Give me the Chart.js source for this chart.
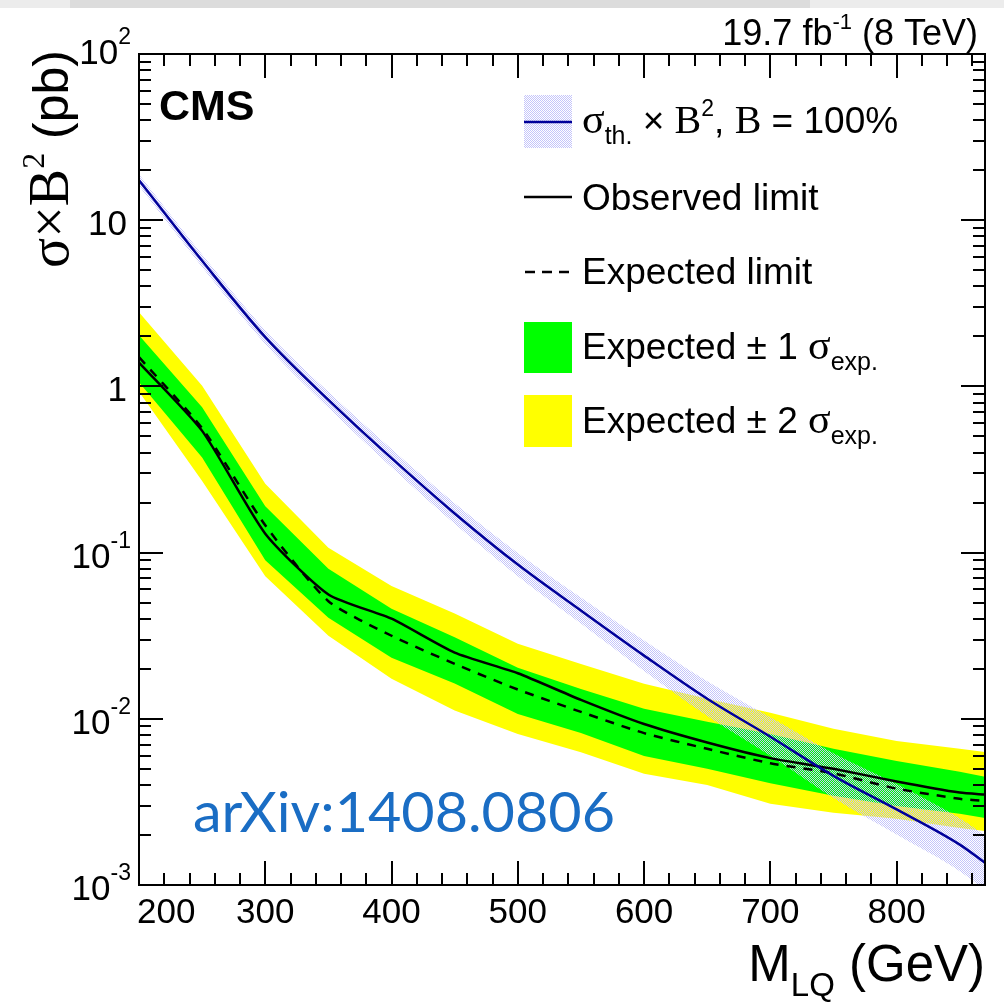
<!DOCTYPE html>
<html>
<head>
<meta charset="utf-8">
<script src="https://cdn.jsdelivr.net/npm/chart.js@4.4.1/dist/chart.umd.min.js"></script>
<style>
  html, body { margin: 0; padding: 0; background: #fff; }
  #wrap { width: 1004px; height: 1003px; position: relative; }
</style>
</head>
<body>
<div id="wrap"><canvas id="limitChart"></canvas></div>
<script>
// LQ mass points (GeV)
const masses = [200, 250, 300, 350, 400, 450, 500, 550, 600, 650, 700, 750, 800, 850, 870];

// theory cross section x B^2 (pb) and its uncertainty band
const theory     = [17.4, 5.7, 1.98, 0.83, 0.37, 0.172, 0.0847, 0.0448, 0.024, 0.0132, 0.0078, 0.00454, 0.00285, 0.00175, 0.00136];
const theoryUp   = [18.9, 6.22, 2.18, 0.927, 0.42, 0.198, 0.0995, 0.0536, 0.0296, 0.0168, 0.0102, 0.0062, 0.00405, 0.00252, 0.00199];
const theoryDown = [16.05, 5.22, 1.80, 0.743, 0.326, 0.149, 0.0721, 0.0374, 0.0194, 0.0104, 0.0060, 0.00334, 0.00201, 0.00121, 0.00093];

// limits (pb)
const observed = [1.39, 0.54, 0.13, 0.056, 0.040, 0.025, 0.0188, 0.013, 0.0093, 0.0072, 0.0058, 0.0050, 0.0042, 0.0036, 0.0035];
const expected = [1.5, 0.56, 0.146, 0.051, 0.0316, 0.0214, 0.015, 0.011, 0.0082, 0.0066, 0.0054, 0.0047, 0.0038, 0.0033, 0.0032];
const exp1Up   = [2.03, 0.75, 0.19, 0.080, 0.046, 0.031, 0.0203, 0.0151, 0.0115, 0.0096, 0.0081, 0.0066, 0.00558, 0.0048, 0.00448];
const exp1Down = [1.06, 0.373, 0.09, 0.0406, 0.0233, 0.0163, 0.0107, 0.0082, 0.00598, 0.0050, 0.0041, 0.00344, 0.00299, 0.00268, 0.00253];
const exp2Up   = [2.79, 1.01, 0.26, 0.107, 0.063, 0.043, 0.0283, 0.0214, 0.01625, 0.0132, 0.01087, 0.0087, 0.00736, 0.0066, 0.00632];
const exp2Down = [0.93, 0.27, 0.072, 0.0316, 0.0174, 0.0112, 0.0081, 0.0063, 0.00467, 0.0040, 0.00308, 0.00272, 0.0025, 0.0022, 0.00211];

// axis ticks
const xMajorTicks = [200, 300, 400, 500, 600, 700, 800];
const yDecades = [-3, -2, -1, 0, 1, 2];

const SANS = "'Liberation Sans', Arial, sans-serif";
const SERIF = "'Liberation Serif', 'Times New Roman', serif";

const pts = (arr) => masses.map((m, i) => ({ x: m, y: arr[i] }));

// dotted hatch for the theory band
const pc = document.createElement("canvas");
pc.width = 2; pc.height = 2;
const pctx = pc.getContext("2d");
pctx.fillStyle = "rgb(196,196,250)";
pctx.fillRect(0, 0, 1, 1);
pctx.fillRect(1, 1, 1, 1);
const hatch = pctx.createPattern(pc, "repeat");

// draws a run of text pieces: [text, font, dy]
function drawRuns(ctx, runs, x, y) {
  let cx = x;
  runs.forEach(([t, f, dy]) => {
    ctx.font = f;
    ctx.fillText(t, cx, y + (dy || 0));
    cx += ctx.measureText(t).width;
  });
  return cx;
}
function runsWidth(ctx, runs) {
  let w = 0;
  runs.forEach(([t, f]) => { ctx.font = f; w += ctx.measureText(t).width; });
  return w;
}

const decorations = {
  id: "decorations",
  afterDraw(chart) {
    const ctx = chart.ctx;
    const xs = chart.scales.x, ys = chart.scales.y;
    const a = chart.chartArea;
    ctx.save();

    // grey strip at very top
    ctx.fillStyle = "#ececec";
    ctx.fillRect(0, 0, 1004, 8);
    ctx.fillStyle = "#dcdcdc";
    ctx.fillRect(70, 0, 740, 8);

    ctx.strokeStyle = "#000";
    ctx.lineWidth = 2;
    ctx.strokeRect(a.left, a.top, a.right - a.left, a.bottom - a.top);

    // x ticks (bottom and top)
    ctx.beginPath();
    for (let m = 200; m <= 870; m += 20) {
      const px = Math.round(xs.getPixelForValue(m));
      const len = m % 100 === 0 ? 24 : 12;
      ctx.moveTo(px, a.bottom); ctx.lineTo(px, a.bottom - len);
      ctx.moveTo(px, a.top); ctx.lineTo(px, a.top + len);
    }
    // y ticks (left and right)
    for (let e = -3; e <= 1; e++) {
      for (let k = 1; k <= 9; k++) {
        const py = Math.round(ys.getPixelForValue(k * Math.pow(10, e)));
        const len = k === 1 ? 24 : 12;
        ctx.moveTo(a.left, py); ctx.lineTo(a.left + len, py);
        ctx.moveTo(a.right, py); ctx.lineTo(a.right - len, py);
      }
    }
    ctx.stroke();

    ctx.fillStyle = "#000";
    ctx.textBaseline = "alphabetic";

    // x tick labels
    ctx.font = "35px " + SANS;
    xMajorTicks.forEach((m, i) => {
      const px = xs.getPixelForValue(m);
      if (i === 0) { ctx.textAlign = "left"; ctx.fillText(String(m), 137, 923); }
      else { ctx.textAlign = "center"; ctx.fillText(String(m), px, 923); }
    });

    // y tick labels
    ctx.textAlign = "left";
    yDecades.forEach((e) => {
      const py = ys.getPixelForValue(Math.pow(10, e)) + (e === 2 ? -2 : 3);
      const base = py + 12;
      if (e === 0 || e === 1) {
        const t = e === 0 ? "1" : "10";
        ctx.font = "35px " + SANS;
        ctx.fillText(t, 127 - ctx.measureText(t).width, base);
      } else {
        const sup = String(e);
        ctx.font = "23px " + SANS;
        const sw = ctx.measureText(sup).width;
        ctx.fillText(sup, 131 - sw, base - 20);
        ctx.font = "35px " + SANS;
        const bw = ctx.measureText("10").width;
        ctx.fillText("10", 131 - sw - bw, base);
      }
    });

    // x axis title
    const xt = [["M", "51px " + SANS, 0], ["LQ", "33px " + SANS, 15], [" (GeV)", "51px " + SANS, 0]];
    drawRuns(ctx, xt, 985 - runsWidth(ctx, xt), 981);

    // y axis title (rotated)
    const yt = [["\u03c3\u00d7B", "56px " + SERIF, 0], ["2", "32px " + SERIF, -24], [" (pb)", "50px " + SANS, 0]];
    const yw = runsWidth(ctx, yt);
    ctx.save();
    ctx.translate(68, 50 + yw);
    ctx.rotate(-Math.PI / 2);
    drawRuns(ctx, yt, 0, 0);
    ctx.restore();

    // CMS label and lumi
    ctx.font = "bold 43px " + SANS;
    ctx.fillText("CMS", 159, 120);
    const lumi = [["19.7 fb", "36px " + SANS, 0], ["-1", "22px " + SANS, -16], [" (8 TeV)", "36px " + SANS, 0]];
    drawRuns(ctx, lumi, 978 - runsWidth(ctx, lumi), 45);

    // arXiv tag
    ctx.save();
    ctx.fillStyle = "#1a6dc4";
    ctx.font = "57px Lato, 'Open Sans', sans-serif";
    const aw = ctx.measureText("arXiv:1408.0806").width;
    ctx.translate(193, 832);
    ctx.scale(422 / aw, 1);
    ctx.fillText("arXiv:1408.0806", 0, 0);
    ctx.restore();

    // legend
    const lx = 524, lw = 48, tx = 582;
    ctx.fillStyle = hatch;
    ctx.fillRect(lx, 95, lw, 53);
    ctx.strokeStyle = "#000099";
    ctx.lineWidth = 2.5;
    ctx.beginPath(); ctx.moveTo(lx, 122); ctx.lineTo(lx + lw, 122); ctx.stroke();
    ctx.strokeStyle = "#000";
    ctx.beginPath(); ctx.moveTo(lx, 197); ctx.lineTo(lx + lw, 197); ctx.stroke();
    ctx.setLineDash([10, 7]);
    ctx.beginPath(); ctx.moveTo(lx + 1, 272); ctx.lineTo(lx + lw, 272); ctx.stroke();
    ctx.setLineDash([]);
    ctx.fillStyle = "#00ff00";
    ctx.fillRect(lx, 322, lw, 51);
    ctx.fillStyle = "#ffff00";
    ctx.fillRect(lx, 395, lw, 52);

    ctx.fillStyle = "#000";
    const F = "37px " + SANS, FS = "42px " + SERIF, FSUB = "25px " + SANS;
    drawRuns(ctx, [["\u03c3", FS, 0], ["th.", FSUB, 11], [" \u00d7 ", F, 0], ["B", "40px " + SERIF, 0],
      ["2", "23px " + SANS, -17], [", ", F, 0], ["B", "40px " + SERIF, 0], [" = 100%", F, 0]], tx, 133);
    drawRuns(ctx, [["Observed limit", F, 0]], tx, 210);
    drawRuns(ctx, [["Expected limit", F, 0]], tx, 284);
    drawRuns(ctx, [["Expected \u00b1 1 ", F, 0], ["\u03c3", FS, 0], ["exp.", FSUB, 11]], tx, 359);
    drawRuns(ctx, [["Expected \u00b1 2 ", F, 0], ["\u03c3", FS, 0], ["exp.", FSUB, 11]], tx, 433);

    ctx.restore();
  }
};

new Chart(document.getElementById("limitChart"), {
  type: "line",
  data: {
    datasets: [
      { label: "theory", data: pts(theory), borderColor: "#000099", borderWidth: 2.5, cubicInterpolationMode: "monotone", fill: false, order: 0 },
      { label: "observed", data: pts(observed), borderColor: "#000", borderWidth: 2.5, tension: 0.2, fill: false, order: 1 },
      { label: "expected", data: pts(expected), borderColor: "#000", borderWidth: 2.5, borderDash: [9, 8], tension: 0.2, fill: false, order: 2 },
      { label: "theoryUp", data: pts(theoryUp), borderWidth: 0, cubicInterpolationMode: "monotone", fill: 4, backgroundColor: hatch, order: 3 },
      { label: "theoryDown", data: pts(theoryDown), borderWidth: 0, cubicInterpolationMode: "monotone", fill: false, order: 3 },
      { label: "exp1Up", data: pts(exp1Up), borderWidth: 0, fill: 6, backgroundColor: "#00ff00", order: 4 },
      { label: "exp1Down", data: pts(exp1Down), borderWidth: 0, fill: false, order: 4 },
      { label: "exp2Up", data: pts(exp2Up), borderWidth: 0, fill: 8, backgroundColor: "#ffff00", order: 5 },
      { label: "exp2Down", data: pts(exp2Down), borderWidth: 0, fill: false, order: 5 }
    ]
  },
  options: {
    responsive: true,
    maintainAspectRatio: false,
    animation: false,
    devicePixelRatio: 1,
    elements: { point: { radius: 0 } },
    layout: { padding: { left: 139, right: 19, top: 54, bottom: 118 } },
    plugins: { legend: { display: false }, tooltip: { enabled: false } },
    scales: {
      x: { type: "linear", min: 200, max: 870, display: false },
      y: { type: "logarithmic", min: 0.001, max: 100, display: false }
    }
  },
  plugins: [decorations]
});
</script>
</body>
</html>
